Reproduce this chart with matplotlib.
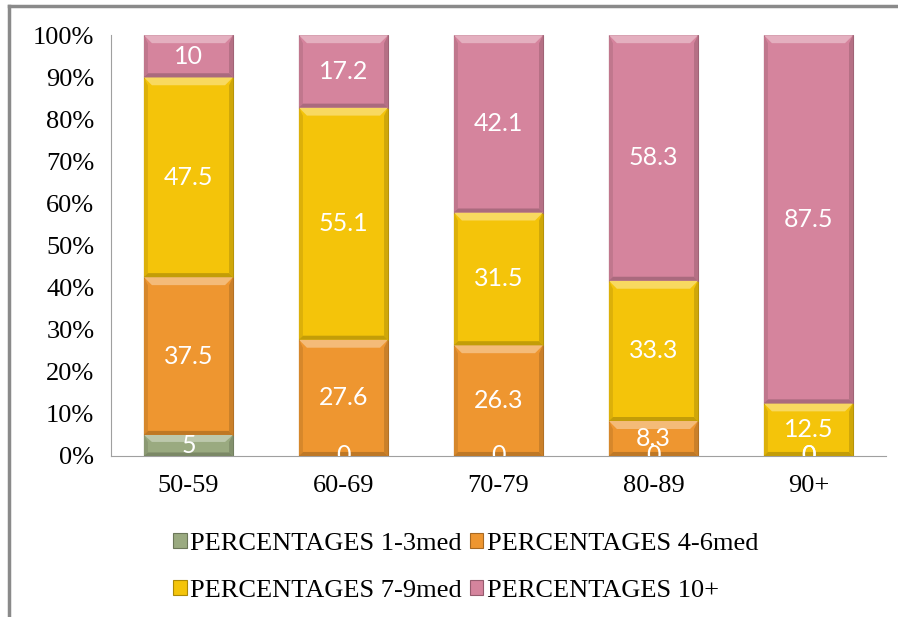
import matplotlib.pyplot as plt
import numpy as np
from matplotlib.patches import Polygon, Patch
from matplotlib.lines import Line2D
import matplotlib.colors as mcolors

groups = ['50-59', '60-69', '70-79', '80-89', '90+']
med_1_3 = [5, 0, 0, 0, 0]
med_4_6 = [37.5, 27.6, 26.3, 8.3, 0]
med_7_9 = [47.5, 55.1, 31.5, 33.3, 12.5]
med_10 = [10, 17.2, 42.1, 58.3, 87.5]
series_names = ['PERCENTAGES 1-3med', 'PERCENTAGES 4-6med',
                'PERCENTAGES 7-9med', 'PERCENTAGES 10+']
colors = ['#9aaa80', '#ee9630', '#f4c40a', '#d5849d']

series = np.array([med_1_3, med_4_6, med_7_9, med_10], dtype=float)
totals = series.sum(axis=0)
shares = series / totals * 100  # 100% stacked

fig = plt.figure(figsize=(8.98, 6.17), dpi=100)
ax = fig.add_axes([0.1236, 0.261, 0.863, 0.682])

x = np.arange(len(groups))
width = 0.575
# bevel size: ~8 px in data units
ax_w_px = 0.863 * 898
ax_h_px = 0.682 * 617
dx = 8 * len(groups) / ax_w_px
dy = 8 * 100 / ax_h_px


def shade(c, f):
    r, g, b = mcolors.to_rgb(c)
    if f > 1:
        return (r + (1 - r) * (f - 1), g + (1 - g) * (f - 1), b + (1 - b) * (f - 1))
    return (r * f, g * f, b * f)


bottom = np.zeros(len(groups))
for s, col in enumerate(colors):
    for i in range(len(groups)):
        h = shares[s, i]
        b0 = bottom[i]
        if h > 0:
            x0 = x[i] - width / 2
            x1 = x[i] + width / 2
            y0, y1 = b0, b0 + h
            by = min(dy, h / 3)
            ax.add_patch(Polygon([(x0, y0), (x1, y0), (x1, y1), (x0, y1)],
                                 closed=True, facecolor=col,
                                 edgecolor=shade(col, 0.75), lw=0.8, zorder=2))
            # top bevel (light)
            ax.add_patch(Polygon([(x0, y1), (x1, y1), (x1 - dx, y1 - by), (x0 + dx, y1 - by)],
                                 closed=True, facecolor=shade(col, 1.35), lw=0, zorder=3))
            # side bevels (darker)
            ax.add_patch(Polygon([(x0, y0), (x0 + dx * 0.5, y0 + by * 0.5), (x0 + dx * 0.5, y1 - by), (x0, y1)],
                                 closed=True, facecolor=shade(col, 0.9), lw=0, zorder=3))
            ax.add_patch(Polygon([(x1, y0), (x1 - dx * 0.5, y0 + by * 0.5), (x1 - dx * 0.5, y1 - by), (x1, y1)],
                                 closed=True, facecolor=shade(col, 0.85), lw=0, zorder=3))
            # bottom bevel (dark)
            ax.add_patch(Polygon([(x0, y0), (x1, y0), (x1 - dx * 0.5, y0 + by * 0.5), (x0 + dx * 0.5, y0 + by * 0.5)],
                                 closed=True, facecolor=shade(col, 0.8), lw=0, zorder=3))
        val = series[s, i]
        ax.text(x[i], b0 + h / 2, f'{val:g}', ha='center', va='center',
                color='white', fontsize=18, family='Lato', zorder=5, clip_on=True)
    bottom += shares[s]

ax.set_xlim(-0.5, len(groups) - 0.5)
ax.set_ylim(0, 100)
ax.set_yticks(np.arange(0, 101, 10))
ax.set_yticklabels([f'{v}%' for v in range(0, 101, 10)])
ax.set_xticks(x)
ax.set_xticklabels(groups)
for lab in ax.get_xticklabels() + ax.get_yticklabels():
    lab.set_family('Liberation Serif')
    lab.set_fontsize(19)
ax.tick_params(axis='both', length=0, colors='black')
ax.tick_params(axis='x', pad=14)
ax.tick_params(axis='y', pad=12)
for sp in ['top', 'right']:
    ax.spines[sp].set_visible(False)
ax.spines['left'].set_color('#a0a0a0')
ax.spines['bottom'].set_color('#a0a0a0')

handles = [Patch(facecolor=c, edgecolor=shade(c, 0.7), lw=0.8) for c in colors]
order = [0, 2, 1, 3]
leg = fig.legend([handles[k] for k in order], [series_names[k] for k in order],
                 ncol=2, loc='center', bbox_to_anchor=(0.519, 0.08), frameon=False,
                 prop={'family': 'Liberation Serif', 'size': 19},
                 handlelength=0.5, handleheight=0.5, handletextpad=0.15,
                 columnspacing=0.3, labelspacing=0.95)

# outer frame (top and left edges visible)
fig.add_artist(Line2D([0.01, 1.0], [0.99, 0.99], color='#8a8a8a', lw=2.5))
fig.add_artist(Line2D([0.01, 0.01], [0.0, 0.99], color='#8a8a8a', lw=2.5))

fig.savefig('out.png', dpi=100)
